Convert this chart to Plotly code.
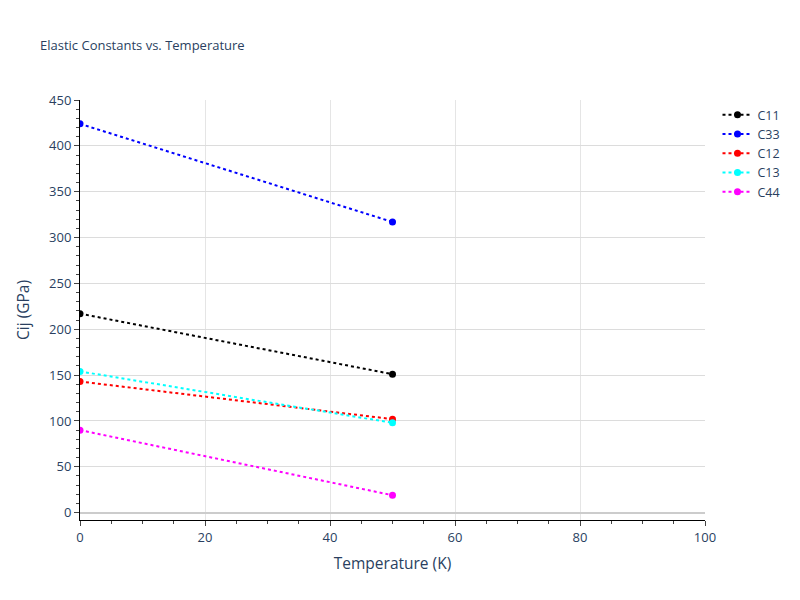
import plotly.graph_objects as go

temperature = [0, 50]
c11 = [217, 151]
c33 = [424, 317]
c12 = [143, 102]
c13 = [154, 98]
c44 = [90, 19]

series = [("C11", c11, "black"), ("C33", c33, "blue"), ("C12", c12, "red"),
          ("C13", c13, "cyan"), ("C44", c44, "magenta")]

fig = go.Figure()
for name, vals, col in series:
    fig.add_trace(go.Scatter(x=temperature, y=vals, mode="lines+markers", name=name,
                             line=dict(color=col, dash="dot", width=2),
                             marker=dict(color=col, size=7)))

fig.update_layout(
    width=800, height=600,
    template="plotly_white",
    title=dict(text="Elastic Constants vs. Temperature", font=dict(size=13), x=0.04, y=0.945),
    xaxis=dict(title=dict(text="Temperature (K)", standoff=13), range=[0, 100], dtick=20,
               showline=True, linecolor="black", ticks="outside",
               minor=dict(ticks="outside", dtick=5, showgrid=False),
               gridcolor="#e5e5e5", zeroline=False, tickfont=dict(size=13)),
    yaxis=dict(title="Cij (GPa)", range=[-8, 450], dtick=50,
               showline=True, linecolor="black", ticks="outside",
               minor=dict(ticks="outside", dtick=10, showgrid=False),
               gridcolor="#dcdcdc", zeroline=True, zerolinecolor="#cccccc", zerolinewidth=2,
               tickfont=dict(size=13)),
    margin=dict(l=72, r=103, t=92, b=88),
    legend=dict(x=1.02, y=1, font=dict(size=12.5)),
    font=dict(size=12),
)
fig.update_xaxes(title_font=dict(size=15.5))
fig.update_yaxes(title_font=dict(size=15.5))
fig.write_html("out.html")
